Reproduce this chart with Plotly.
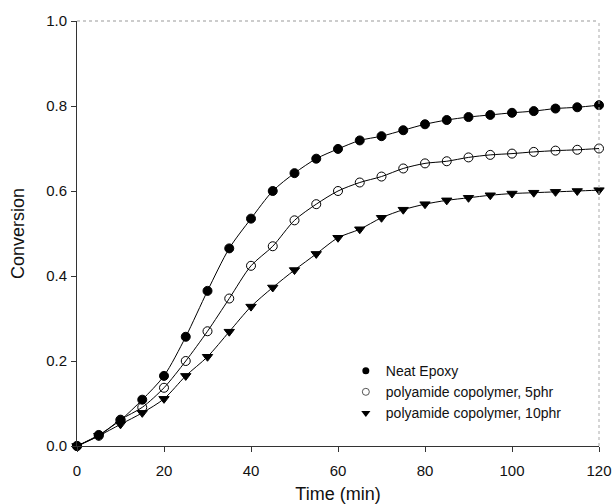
import plotly.graph_objects as go

time_min = [0, 5, 10, 15, 20, 25, 30, 35, 40, 45, 50, 55, 60, 65, 70, 75, 80, 85, 90, 95, 100, 105, 110, 115, 120]
neat_epoxy = [0, 0.026, 0.061, 0.109, 0.165, 0.257, 0.365, 0.465, 0.535, 0.600, 0.642, 0.676, 0.699, 0.719, 0.729,
              0.743, 0.757, 0.767, 0.774, 0.779, 0.784, 0.788, 0.794, 0.797, 0.802]
pa_5phr = [0, 0.024, 0.062, 0.091, 0.137, 0.200, 0.270, 0.347, 0.424, 0.470, 0.531, 0.569, 0.600, 0.620, 0.634,
           0.653, 0.665, 0.670, 0.679, 0.685, 0.688, 0.692, 0.695, 0.697, 0.700]
pa_10phr = [0, 0.024, 0.051, 0.078, 0.111, 0.165, 0.210, 0.269, 0.328, 0.373, 0.414, 0.452, 0.490, 0.510, 0.537,
            0.556, 0.569, 0.578, 0.584, 0.590, 0.594, 0.596, 0.598, 0.600, 0.602]
series_names = ["Neat Epoxy", "polyamide copolymer, 5phr", "polyamide copolymer, 10phr"]
x_ticks = [0, 20, 40, 60, 80, 100, 120]
y_ticks = [0.0, 0.2, 0.4, 0.6, 0.8, 1.0]

markers = [
    dict(symbol="circle", size=9, color="black", line=dict(color="black", width=1)),
    dict(symbol="circle-open", size=9, color="black", line=dict(color="black", width=1)),
    dict(symbol="triangle-down", size=9, color="black", line=dict(color="black", width=1)),
]
legend_markers = [
    dict(symbol="circle", size=7, color="black"),
    dict(symbol="circle-open", size=7, color="#555", line=dict(width=1)),
    dict(symbol="triangle-down", size=8, color="black"),
]

fig = go.Figure()
for name, ys, mk, lmk in zip(series_names, [neat_epoxy, pa_5phr, pa_10phr], markers, legend_markers):
    fig.add_trace(go.Scatter(
        x=time_min, y=ys, mode="lines+markers", name=name, showlegend=False,
        line=dict(color="black", width=1, shape="spline", smoothing=0.8),
        marker=mk, cliponaxis=False,
    ))
    fig.add_trace(go.Scatter(
        x=[None], y=[None], mode="markers", name=name, showlegend=True,
        marker=lmk,
    ))

fig.update_layout(
    width=614, height=504,
    margin=dict(l=77, r=15, t=21, b=58),
    paper_bgcolor="white", plot_bgcolor="white",
    font=dict(family="Liberation Sans, Arial, sans-serif", size=15, color="#111"),
    showlegend=True,
    legend=dict(x=0.515, y=0.127, xanchor="left", yanchor="middle",
                bgcolor="rgba(0,0,0,0)", font=dict(size=14, color="#111"),
                itemwidth=30, tracegroupgap=0),
    shapes=[
        dict(type="line", xref="paper", yref="paper", x0=0, x1=1, y0=1, y1=1,
             line=dict(color="#999", width=1, dash="dot")),
        dict(type="line", xref="paper", yref="paper", x0=1, x1=1, y0=0, y1=1,
             line=dict(color="#aaa", width=1, dash="dot")),
    ],
)
fig.update_xaxes(
    range=[0, 120], tickvals=x_ticks, ticks="outside", ticklen=5, tickcolor="#333",
    ticklabelstandoff=6, automargin=False,
    showline=True, linecolor="#333", linewidth=1, showgrid=False, zeroline=False,
    title=dict(text="Time (min)", font=dict(size=18), standoff=18),
)
fig.update_yaxes(
    range=[0, 1.0], tickvals=y_ticks, tickformat=".1f", ticks="outside", ticklen=5, tickcolor="#333",
    ticklabelstandoff=1, automargin=False,
    showline=True, linecolor="#333", linewidth=1, showgrid=False, zeroline=False,
    title=dict(text="Conversion", font=dict(size=18), standoff=16),
)

fig.write_html(
    "out.html",
    config={"displayModeBar": False},
    post_script="document.body.style.margin='0';document.body.style.overflow='hidden';",
)
